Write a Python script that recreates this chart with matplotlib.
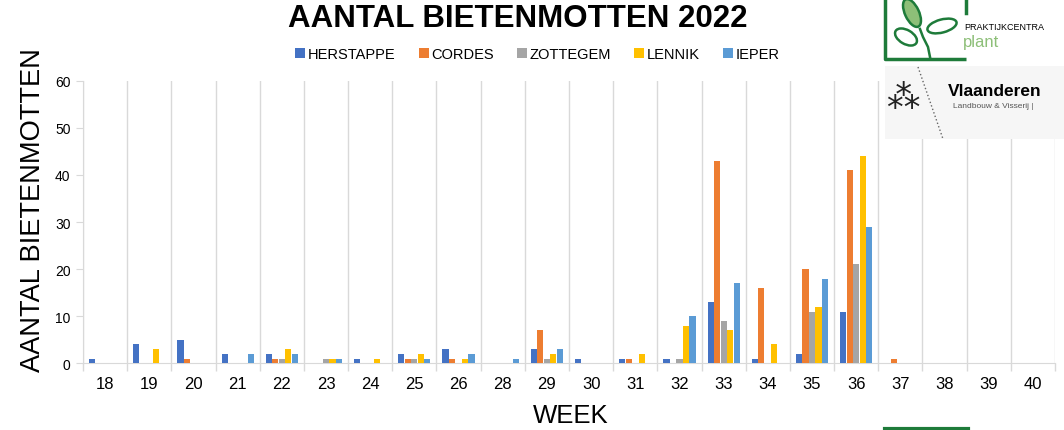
import numpy as np
import matplotlib.pyplot as plt
from matplotlib.patches import Rectangle, Ellipse

plt.rcParams['font.family'] = ['Liberation Sans', 'DejaVu Sans']

weeks = ['18', '19', '20', '21', '22', '23', '24', '25', '26', '28', '29',
         '30', '31', '32', '33', '34', '35', '36', '37', '38', '39', '40']
herstappe = [1, 4, 5, 2, 2, 0, 1, 2, 3, 0, 3, 1, 1, 1, 13, 1, 2, 11, 0, 0, 0, 0]
cordes    = [0, 0, 1, 0, 1, 0, 0, 1, 1, 0, 7, 0, 1, 0, 43, 16, 20, 41, 1, 0, 0, 0]
zottegem  = [0, 0, 0, 0, 1, 1, 0, 1, 0, 0, 1, 0, 0, 1, 9, 0, 11, 21, 0, 0, 0, 0]
lennik    = [0, 3, 0, 0, 3, 1, 1, 2, 1, 0, 2, 0, 2, 8, 7, 4, 12, 44, 0, 0, 0, 0]
ieper     = [0, 0, 0, 2, 2, 1, 0, 1, 2, 1, 3, 0, 0, 10, 17, 0, 18, 29, 0, 0, 0, 0]

series = [('HERSTAPPE', herstappe, '#4472C4'),
          ('CORDES', cordes, '#ED7D31'),
          ('ZOTTEGEM', zottegem, '#A5A5A5'),
          ('LENNIK', lennik, '#FFC000'),
          ('IEPER', ieper, '#5B9BD5')]

fig = plt.figure(figsize=(10.64, 4.31), dpi=100)
ax = fig.add_axes([0.078, 0.1547, 0.9135, 0.6557])

x = np.arange(len(weeks))
step = 0.147
for i, (name, vals, col) in enumerate(series):
    vals = np.array(vals, dtype=float)
    h = np.where(vals > 0, vals, np.nan)
    ax.bar(x + (i - 2) * step, h, width=0.14, color=col, label=name, zorder=3)

ax.set_xlim(-0.5, len(weeks) - 0.5)
ax.set_ylim(0, 60)
ax.set_yticks(range(0, 61, 10))
ax.set_xticks(x)
ax.set_xticklabels(weeks)
ax.set_xticks(np.arange(-0.5, len(weeks)), minor=True)
ax.grid(axis='x', which='minor', color='#D9D9D9', lw=1, zorder=0)
ax.tick_params(axis='x', which='major', length=0, labelsize=12, pad=9)
ax.tick_params(axis='x', which='minor', length=6, color='#D9D9D9', width=1)
ax.tick_params(axis='y', length=5, color='#D9D9D9', labelsize=10, pad=4)
for s in ['top', 'right']:
    ax.spines[s].set_visible(False)
for s in ['left', 'bottom']:
    ax.spines[s].set_color('#D9D9D9')

fig.text(0.487, 0.955, 'AANTAL BIETENMOTTEN 2022', ha='center', va='center',
         fontsize=22.5, fontweight='bold')
fig.text(0.031, 0.512, 'AANTAL BIETENMOTTEN', rotation=90, ha='center',
         va='center', fontsize=19.6)
fig.text(0.536, 0.035, 'WEEK', ha='center', va='center', fontsize=18.5)

fig.legend(loc='center', bbox_to_anchor=(0.505, 0.872), ncol=5, frameon=False,
           fontsize=10.5, handlelength=0.7, handleheight=0.7, handletextpad=0.15,
           columnspacing=1.6)

# logos (approximation), drawn in pixel coordinates
lg = fig.add_axes([0, 0, 1, 1], zorder=10)
lg.set_xlim(0, 1064)
lg.set_ylim(431, 0)
lg.axis('off')
green = '#1E7B3A'
light = '#8DBF78'
lg.plot([885, 885, 966], [0, 60, 60], color=green, lw=2.5, solid_capstyle='butt')
lg.plot([966, 966], [0, 14], color=green, lw=2.5)
lg.add_patch(Ellipse((912, 14), 14, 30, angle=-25, fc=light, ec=green, lw=1.8))
lg.add_patch(Ellipse((942, 27), 30, 13, angle=-15, fc='white', ec=green, lw=1.8))
lg.add_patch(Ellipse((906, 38), 24, 14, angle=30, fc='white', ec=green, lw=1.8))
lg.plot([920, 923, 928, 930], [30, 38, 48, 58], color=green, lw=1.8)
lg.text(964, 27, 'PRAKTIJKCENTRA', fontsize=6.5, ha='left', va='center')
lg.text(963, 43, 'plant', fontsize=12, color=light, ha='left', va='center')
lg.add_patch(Rectangle((885, 67), 179, 73, fc='#F6F6F6', ec='none'))
lg.plot([918, 943], [68, 140], color='#666666', lw=1, ls=':')
lg.text(948, 92, 'Vlaanderen', fontsize=12.5, fontweight='bold', ha='left',
        va='center')
lg.text(953, 107, 'Landbouw & Visserij |', fontsize=6, color='#555555',
        ha='left', va='center')
lg.text(903, 100, '\u2042', fontsize=24, ha='center', va='center', color='#222222')
lg.plot([885, 968], [430, 430], color=green, lw=3)

fig.savefig('out.png', dpi=100)
